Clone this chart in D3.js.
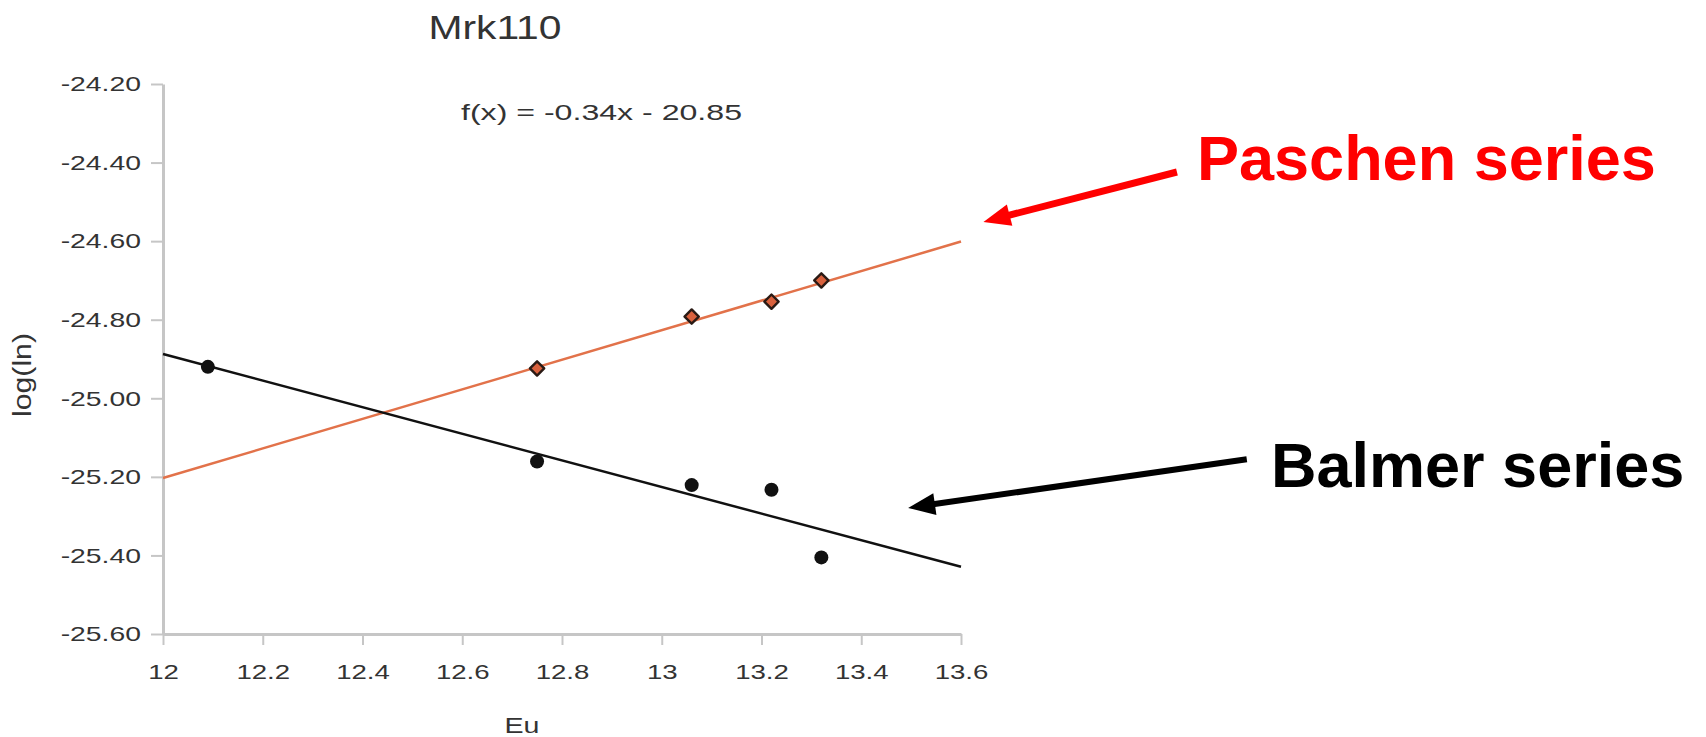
<!DOCTYPE html>
<html>
<head>
<meta charset="utf-8">
<script src="https://cdn.jsdelivr.net/npm/d3@7"></script>
<style>
  body { margin: 0; background: #fff; }
  svg { display: block; }
</style>
</head>
<body>
<svg width="1706" height="737"></svg>
<script>
// data
const balmerX = [12.09, 12.75, 13.06, 13.22, 13.32];
const balmerY = [-24.92, -25.161, -25.221, -25.233, -25.405];
const paschenX = [12.75, 13.06, 13.22, 13.32];
const paschenY = [-24.924, -24.792, -24.754, -24.70];

// fitted lines (slope, intercept) drawn across the x range
const balmerFit = { slope: -0.3386, intercept: -20.824 };
const paschenFit = { slope: 0.37625, intercept: -29.718 };

const xTicks = [12, 12.2, 12.4, 12.6, 12.8, 13, 13.2, 13.4, 13.6];
const yTicks = [-24.2, -24.4, -24.6, -24.8, -25.0, -25.2, -25.4, -25.6];

const titleText = "Mrk110";
const equationText = "f(x) = -0.34x - 20.85";
const xLabel = "Eu";
const yLabel = "log(ln)";

const svg = d3.select("svg");
const margin = { left: 163, right: 745, top: 84, bottom: 103 };
const width = +svg.attr("width") - margin.left - margin.right;
const height = +svg.attr("height") - margin.top - margin.bottom;

const chartFont = "'Liberation Sans', Arial, Helvetica, sans-serif";
const textColor = "#333";
const axisColor = "#c6c6c6";

// the original chart text is stretched sideways, so widen glyphs
const stretch = (sel, k) => sel.each(function () {
  const n = this.getComputedTextLength();
  d3.select(this).attr("textLength", n * k).attr("lengthAdjust", "spacingAndGlyphs");
});

const xScale = d3.scaleLinear().domain([12, 13.6]).range([0, width]);
const yScale = d3.scaleLinear().domain([-24.2, -25.6]).range([0, height]);

const g = svg.append("g").attr("transform", "translate(" + margin.left + "," + margin.top + ")");

// y axis (plain hyphen for the minus sign, as in the original)
const yAxis = g.append("g")
  .call(d3.axisLeft(yScale).tickValues(yTicks).tickSize(12).tickPadding(10)
    .tickFormat(d => d.toFixed(2)).tickSizeOuter(0));
yAxis.select(".domain").attr("stroke", axisColor).attr("stroke-width", 3);
yAxis.selectAll(".tick line").attr("stroke", axisColor).attr("stroke-width", 2);
yAxis.selectAll(".tick text")
  .attr("fill", textColor).style("font-family", chartFont).style("font-size", "21px")
  .call(stretch, 1.35);

// x axis
const xAxis = g.append("g")
  .attr("transform", "translate(0," + height + ")")
  .call(d3.axisBottom(xScale).tickValues(xTicks).tickSize(11).tickPadding(20)
    .tickFormat(d => String(+d.toFixed(1))).tickSizeOuter(0));
xAxis.select(".domain").attr("stroke", axisColor).attr("stroke-width", 3);
xAxis.selectAll(".tick line").attr("stroke", axisColor).attr("stroke-width", 2);
xAxis.selectAll(".tick text")
  .attr("fill", textColor).style("font-family", chartFont).style("font-size", "20px")
  .call(stretch, 1.38);

// title, equation and axis labels
svg.append("text")
  .attr("x", 495).attr("y", 39)
  .attr("text-anchor", "middle")
  .style("font-family", chartFont).style("font-size", "33px").attr("fill", textColor)
  .text(titleText)
  .attr("textLength", 133).attr("lengthAdjust", "spacingAndGlyphs");

svg.append("text")
  .attr("x", 461).attr("y", 120)
  .style("font-family", chartFont).style("font-size", "22px").attr("fill", textColor)
  .text(equationText)
  .attr("textLength", 281).attr("lengthAdjust", "spacingAndGlyphs");

svg.append("text")
  .attr("x", 522).attr("y", 733)
  .attr("text-anchor", "middle")
  .style("font-family", chartFont).style("font-size", "22px").attr("fill", textColor)
  .text(xLabel)
  .call(stretch, 1.3);

svg.append("text")
  .attr("transform", "translate(31,375) rotate(-90)")
  .attr("text-anchor", "middle")
  .style("font-family", chartFont).style("font-size", "25px").attr("fill", textColor)
  .text(yLabel)
  .attr("textLength", 84).attr("lengthAdjust", "spacingAndGlyphs");

// fit lines
const fitLine = f => [12, 13.6].map(x => [x, f.slope * x + f.intercept]);
const line = d3.line().x(d => xScale(d[0])).y(d => yScale(d[1]));

g.append("path")
  .datum(fitLine(paschenFit))
  .attr("d", line)
  .attr("fill", "none").attr("stroke", "#e2724a").attr("stroke-width", 2.5);

g.append("path")
  .datum(fitLine(balmerFit))
  .attr("d", line)
  .attr("fill", "none").attr("stroke", "#111").attr("stroke-width", 2.5);

// Balmer points
g.append("g")
  .selectAll("circle")
  .data(d3.zip(balmerX, balmerY))
  .enter()
  .append("circle")
  .attr("cx", d => xScale(d[0]))
  .attr("cy", d => yScale(d[1]))
  .attr("r", 7)
  .attr("fill", "#111");

// Paschen points (diamonds)
g.append("g")
  .selectAll("path")
  .data(d3.zip(paschenX, paschenY))
  .enter()
  .append("path")
  .attr("transform", d => "translate(" + xScale(d[0]) + "," + yScale(d[1]) + ")")
  .attr("d", d3.symbol().type(d3.symbolDiamond2).size(130))
  .attr("fill", "#d9613d")
  .attr("stroke", "#2a1a14")
  .attr("stroke-width", 2.4)
  .attr("stroke-linejoin", "round");

// annotations: arrow tip/tail in data units, label at a pixel spot
const annotations = [
  { text: "Paschen series", color: "#ff0000", tail: [14.033, -24.424], tip: [13.645, -24.551], lx: 1197, ly: 180, w: 7 },
  { text: "Balmer series", color: "#000000", tail: [14.173, -25.155], tip: [13.494, -25.279], lx: 1271, ly: 487, w: 6 }
];

annotations.forEach(a => {
  const x1 = xScale(a.tail[0]), y1 = yScale(a.tail[1]);
  const x2 = xScale(a.tip[0]), y2 = yScale(a.tip[1]);
  const ang = Math.atan2(y2 - y1, x2 - x1);
  const headLen = 27, headHalf = 11;
  const bx = x2 - headLen * Math.cos(ang), by = y2 - headLen * Math.sin(ang);
  g.append("line")
    .attr("x1", x1).attr("y1", y1)
    .attr("x2", bx + 2 * Math.cos(ang)).attr("y2", by + 2 * Math.sin(ang))
    .attr("stroke", a.color).attr("stroke-width", a.w);
  const px = -Math.sin(ang), py = Math.cos(ang);
  g.append("path")
    .attr("d", "M" + x2 + "," + y2 +
      "L" + (bx + headHalf * px) + "," + (by + headHalf * py) +
      "L" + (bx - headHalf * px) + "," + (by - headHalf * py) + "Z")
    .attr("fill", a.color);
  svg.append("text")
    .attr("x", a.lx).attr("y", a.ly)
    .style("font-family", chartFont).style("font-size", "63px").style("font-weight", "bold")
    .attr("fill", a.color)
    .text(a.text);
});
</script>
</body>
</html>
